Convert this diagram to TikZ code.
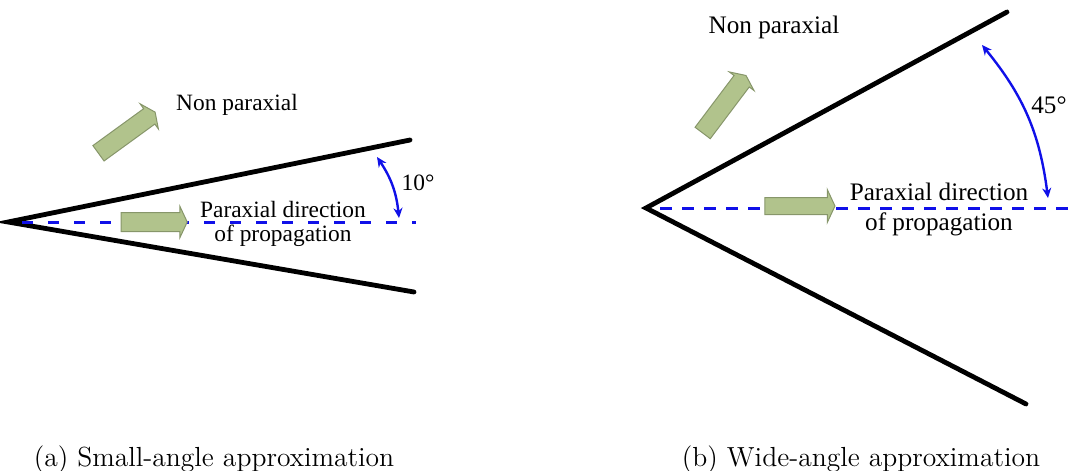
\documentclass[tikz,border=0pt]{standalone}
\usepackage{fontspec}
\newfontfamily\timesfont{Liberation Serif}
\usepackage{xcolor}
\usetikzlibrary{positioning,calc,arrows.meta,shapes.arrows}
\definecolor{leaf}{HTML}{B1C38C}
\definecolor{leafedge}{HTML}{87966A}
\definecolor{ray}{HTML}{1010E8}
\tikzset{
  wall/.style    = {draw=black, line width=2.4pt, line cap=round},
  axis/.style    = {draw=ray, line width=1.5pt},
  sweep/.style   = {{Stealth[length=5pt,width=4.5pt]}-{Stealth[length=5pt,width=4.5pt]}, draw=ray, line width=1.2pt},
  push/.style    = {single arrow, fill=leaf, draw=leafedge, line width=0.5pt, inner xsep=0pt, inner ysep=4.5pt,
                    single arrow head extend=3pt, single arrow tip angle=130, minimum height=33pt},
  lab/.style     = {font=\fontsize{11.7}{12}\selectfont\timesfont, inner sep=0pt, align=center},
  labii/.style   = {font=\fontsize{12.6}{15}\selectfont\timesfont, inner sep=0pt, align=center},
  caption/.style = {font=\fontsize{13.8}{15}\selectfont, inner sep=0pt},
}

\begin{document}
\begin{tikzpicture}[x=0.5pt,y=-0.5pt]
\path[use as bounding box] (0,0) rectangle (1078,471);

% ---------- (a) small-angle wedge ----------
\coordinate (apexa) at (8,222);
\coordinate (topa)  at (410,140);
\coordinate (bota)  at (414,292);
\coordinate (axsa)  at (22,222);
\coordinate (axea)  at (416,222);
\draw[wall] (topa) -- (apexa) -- (bota);
\draw[axis, dash pattern=on 5.5pt off 7.5pt] (axsa) -- (axea);

\node[push, rotate=36, minimum height=35pt] (skewa) at (125,134) {};
\node[push] (flowa) at (152,222) {};
\node[lab] (nonpa) at (237,105) {Non paraxial};
\node[lab] (paraa) at (283,224) {Paraxial direction\\of propagation};

% angle marker
\coordinate (tena) at (377,157);
\coordinate (tenb) at (399,218);
\draw[sweep] (tena) to[bend left=14] (tenb);
\node[lab] (dega) at (418,183) {10°};

\node[caption] (capa) at (214,460) {(a) Small-angle approximation};

% ---------- (b) wide-angle wedge ----------
\coordinate (apexb) at (646,208);
\coordinate (topb)  at (1007,12);
\coordinate (botb)  at (1026,404);
\coordinate (axsb)  at (660,208);
\coordinate (axeb)  at (1078,208);
\draw[wall] (topb) -- (apexb) -- (botb);
\draw[axis, dash pattern=on 6pt off 5pt] (axsb) -- (axeb);

\node[push, rotate=53, minimum height=36pt] (skewb) at (723,106) {};
\node[push, minimum height=35pt, inner ysep=4pt, single arrow head extend=4pt] (flowb) at (798,206) {};
\node[labii] (nonpb) at (774,27) {Non paraxial};
\node[labii] (parab) at (939,209) {Paraxial direction\\of propagation};

% angle marker
\coordinate (fortya) at (982,45);
\coordinate (fortyb) at (1048,198);
\draw[sweep] (fortya) to[bend left=16] (fortyb);
\node[labii] (degb) at (1049,105) {45°};

\node[caption] (capb) at (861,460) {(b) Wide-angle approximation};

\end{tikzpicture}
\end{document}
